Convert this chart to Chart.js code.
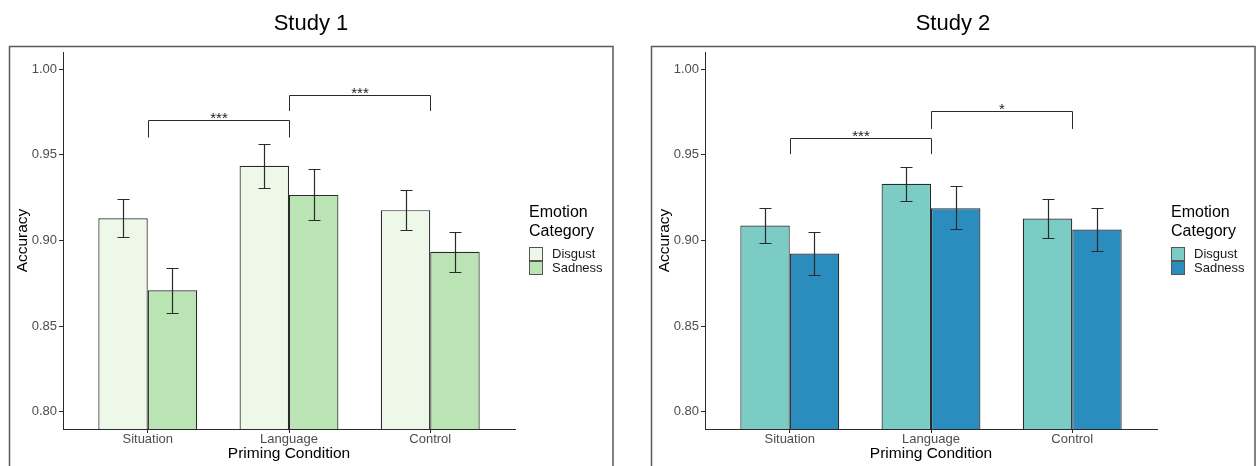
<!DOCTYPE html>
<html><head><meta charset="utf-8">
<script src="https://cdn.jsdelivr.net/npm/chart.js@4.4.0/dist/chart.umd.min.js"></script>
<style>
html,body{margin:0;padding:0;background:#fff;}
#wrap{position:relative;width:1256px;height:466px;overflow:hidden;}
canvas{position:absolute;top:0;}
#c1{left:0}
#c2{left:642px}
</style></head><body>
<div id="wrap"><canvas id="c1" width="614" height="466"></canvas><canvas id="c2" width="614" height="466"></canvas></div>
<script>
const FONT = '"Liberation Sans", Arial, Helvetica, sans-serif';

const categories = ["Situation", "Language", "Control"];
const catPos = [1, 2, 3];
const yTicks = [0.80, 0.85, 0.90, 0.95, 1.00];
const seriesNames = ["Disgust", "Sadness"];
const legendTitle = ["Emotion", "Category"];

// Study 1
const s1Disgust   = [0.913, 0.9436, 0.9177];
const s1DisgustLo = [0.9021, 0.9308, 0.9059];
const s1DisgustHi = [0.9243, 0.9566, 0.9295];
const s1Sadness   = [0.8709, 0.9266, 0.8934];
const s1SadnessLo = [0.8576, 0.9119, 0.8816];
const s1SadnessHi = [0.8841, 0.9417, 0.9049];
const s1BrFrom = [0, 1], s1BrTo = [1, 2];
const s1BrY    = [0.9702, 0.9851];
const s1BrLeg  = [0.9601, 0.9756];
const s1BrText = ["***", "***"];

// Study 2
const s2Disgust   = [0.9087, 0.9331, 0.9128];
const s2DisgustLo = [0.8987, 0.9233, 0.9012];
const s2DisgustHi = [0.9188, 0.9430, 0.9244];
const s2Sadness   = [0.8924, 0.9188, 0.9064];
const s2SadnessLo = [0.8799, 0.9066, 0.8940];
const s2SadnessHi = [0.9049, 0.9316, 0.9190];
const s2BrFrom = [0, 1], s2BrTo = [1, 2];
const s2BrY    = [0.9599, 0.9754];
const s2BrLeg  = [0.9504, 0.9651];
const s2BrText = ["***", "*"];

const INK = '#2a2a2a';

const panelPlugin = {
  id: 'panel',
  beforeDraw(chart, args, o){
    const c = chart.ctx; c.save();
    c.strokeStyle = '#5a5a5a'; c.lineWidth = 1.5;
    c.strokeRect(9.5, 46.5, 603.5, 450);
    c.fillStyle = '#000'; c.font = '22px ' + FONT;
    c.textAlign = 'center'; c.textBaseline = 'alphabetic';
    c.fillText(o.title, 311, 30);
    c.restore();
  },
  afterDatasetsDraw(chart, args, o){
    const c = chart.ctx, x = chart.scales.x, y = chart.scales.y;
    c.save();
    c.strokeStyle = INK; c.lineWidth = 1.2;
    // error bars
    chart.data.datasets.forEach((ds, di)=>{
      chart.getDatasetMeta(di).data.forEach((bar, i)=>{
        const t = Math.round(y.getPixelForValue(ds.errHi[i])) + 0.5;
        const b = Math.round(y.getPixelForValue(ds.errLo[i])) + 0.5;
        const cx = Math.round(bar.x) + 0.5;
        c.beginPath();
        c.moveTo(cx, t); c.lineTo(cx, b);
        c.moveTo(cx - 6, t); c.lineTo(cx + 6, t);
        c.moveTo(cx - 6, b); c.lineTo(cx + 6, b);
        c.stroke();
      });
    });
    // significance brackets
    c.lineWidth = 1;
    c.fillStyle = '#222'; c.font = '15px ' + FONT;
    c.textAlign = 'center'; c.textBaseline = 'alphabetic';
    o.brFrom.forEach((f, k)=>{
      const x1 = Math.round(x.getPixelForValue(catPos[f])) + 0.5;
      const x2 = Math.round(x.getPixelForValue(catPos[o.brTo[k]])) + 0.5;
      const yl = Math.round(y.getPixelForValue(o.brY[k])) + 0.5;
      const yg = y.getPixelForValue(o.brLeg[k]);
      c.beginPath();
      c.moveTo(x1, yg); c.lineTo(x1, yl); c.lineTo(x2, yl); c.lineTo(x2, yg);
      c.stroke();
      c.fillText(o.brText[k], (x1 + x2) / 2, yl + 2);
    });
    // legend
    c.textAlign = 'left'; c.textBaseline = 'middle';
    c.fillStyle = '#000'; c.font = '16px ' + FONT;
    legendTitle.forEach((t, i)=> c.fillText(t, 529, 213 + i * 19));
    c.font = '13px ' + FONT;
    chart.data.datasets.forEach((ds, i)=>{
      const sy = 247 + i * 14;
      c.fillStyle = ds.backgroundColor;
      c.fillRect(529, sy, 14, 14);
      c.strokeStyle = '#555';
      c.strokeRect(529.5, sy + 0.5, 13, 13);
      c.fillStyle = '#1a1a1a';
      c.fillText(ds.label, 552, sy + 7.5);
    });
    c.restore();
  }
};

function makeChart(id, title, colors, vals, lo, hi, br){
  new Chart(document.getElementById(id), {
    type: 'bar',
    data: {
      datasets: seriesNames.map((name, s)=>({
        label: name,
        data: catPos.map((p, i)=>({x: p, y: vals[s][i]})),
        errLo: lo[s], errHi: hi[s],
        backgroundColor: colors[s],
        borderColor: INK, borderWidth: 1.2,
        categoryPercentage: 0.7, barPercentage: 1
      }))
    },
    options: {
      responsive: false, animation: false, devicePixelRatio: 1,
      layout: {padding: {left: 0, right: 99, top: 52, bottom: 0}},
      plugins: {
        legend: {display: false}, tooltip: {enabled: false}, title: {display: false},
        panel: Object.assign({title}, br)
      },
      scales: {
        x: {
          type: 'linear', min: 0.4, max: 3.6, offset: false,
          afterBuildTicks(s){ s.ticks = catPos.map(v=>({value: v})); },
          afterFit(s){ s.height = 37; },
          ticks: {callback: (v, i)=>categories[i], color: '#4d4d4d', font: {size: 13, family: FONT},
                  padding: -1, maxRotation: 0, autoSkip: false},
          grid: {drawOnChartArea: false, offset: false, tickLength: 4, color: INK, tickColor: INK},
          border: {display: true, color: INK, width: 1},
          title: {display: true, text: 'Priming Condition', color: '#000',
                  font: {size: 15.5, family: FONT}, padding: {top: 0, bottom: 3}}
        },
        y: {
          min: 0.79, max: 1.01,
          afterBuildTicks(s){ s.ticks = yTicks.map(v=>({value: v})); },
          afterFit(s){ s.width = 63; },
          ticks: {callback: v=>v.toFixed(2), color: '#4d4d4d', font: {size: 13, family: FONT}, padding: 2},
          grid: {drawOnChartArea: false, tickLength: 4, color: INK, tickColor: INK},
          border: {display: true, color: INK, width: 1},
          title: {display: true, text: 'Accuracy', color: '#000',
                  font: {size: 15.5, family: FONT}, padding: {top: 13, bottom: 0}}
        }
      }
    },
    plugins: [panelPlugin]
  });
}

makeChart('c1', 'Study 1', ['#edf8e9', '#bae4b3'],
  [s1Disgust, s1Sadness], [s1DisgustLo, s1SadnessLo], [s1DisgustHi, s1SadnessHi],
  {brFrom: s1BrFrom, brTo: s1BrTo, brY: s1BrY, brLeg: s1BrLeg, brText: s1BrText});

makeChart('c2', 'Study 2', ['#7bccc4', '#2b8cbe'],
  [s2Disgust, s2Sadness], [s2DisgustLo, s2SadnessLo], [s2DisgustHi, s2SadnessHi],
  {brFrom: s2BrFrom, brTo: s2BrTo, brY: s2BrY, brLeg: s2BrLeg, brText: s2BrText});
</script>
</body></html>
